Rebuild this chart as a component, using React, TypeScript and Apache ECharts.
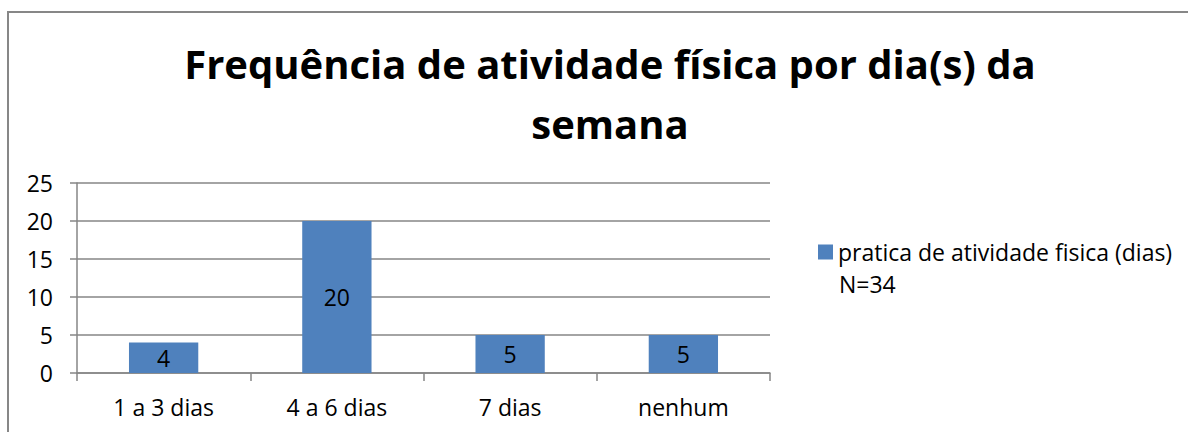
import React, { useEffect, useRef } from "react";
import * as echarts from "echarts";

const categories = ["1 a 3 dias", "4 a 6 dias", "7 dias", "nenhum"];
const values = [4, 20, 5, 5];
const seriesName = "pratica de atividade fisica (dias)";
const legendNote = "N=34";
const titleText = "Frequência de atividade física por dia(s) da\nsemana";

const FONT = "Open Sans";

export default function App() {
  const ref = useRef<HTMLDivElement>(null);
  useEffect(() => {
    if (!ref.current) return;
    const chart = echarts.init(ref.current, undefined, { renderer: "svg" });
    chart.setOption({
      animation: false,
      backgroundColor: "#ffffff",
      textStyle: { fontFamily: FONT },
      title: {
        text: titleText,
        left: 605,
        top: 28,
        padding: 5,
        textAlign: "center",
        textStyle: {
          fontFamily: FONT,
          fontWeight: "bold",
          fontSize: 40,
          lineHeight: 60,
          color: "#000",
        },
      },
      legend: {
        left: 813,
        top: 235,
        itemWidth: 15,
        itemHeight: 15,
        itemGap: 6,
        icon: "rect",
        textStyle: { fontFamily: FONT, fontSize: 23, lineHeight: 24, color: "#000", padding: [0, 0, 0, 0] },
        data: [seriesName],
      },
      grid: { left: 77, right: 418, top: 183, bottom: 59, containLabel: false },
      xAxis: {
        type: "category",
        data: categories,
        axisLine: { lineStyle: { color: "#868686", width: 1.5 } },
        axisTick: { show: true, length: 8, alignWithLabel: false, lineStyle: { color: "#868686", width: 1.5 } },
        axisLabel: { fontFamily: FONT, fontSize: 23, color: "#000", margin: 22 },
      },
      yAxis: {
        type: "value",
        min: 0,
        max: 25,
        interval: 5,
        axisLine: { show: true, lineStyle: { color: "#868686", width: 1.5 } },
        axisTick: { show: true, length: 7, inside: false, lineStyle: { color: "#868686", width: 1.5 } },
        axisLabel: { fontFamily: FONT, fontSize: 23, color: "#000", margin: 24 },
        splitLine: { show: true, lineStyle: { color: "#868686", width: 1.5 } },
      },
      series: [
        {
          name: seriesName,
          type: "bar",
          data: values,
          barWidth: "40%",
          itemStyle: { color: "#4F81BD" },
          label: {
            show: true,
            position: "inside",
            fontFamily: FONT,
            fontSize: 23,
            color: "#000",
          },
        },
      ],
      graphic: [
        {
          type: "rect",
          shape: { x: 8, y: 12, width: 1300, height: 600 },
          style: { fill: "none", stroke: "#878787", lineWidth: 2 },
          silent: true,
        },
        {
          type: "text",
          left: 839,
          top: 272,
          style: { text: legendNote, fontFamily: FONT, fontSize: 23, lineHeight: 24, fill: "#000" },
        },
      ],
    });
    return () => chart.dispose();
  }, []);
  return (
    <div
      ref={ref}
      style={{ position: "fixed", left: 0, top: 0, width: 1188, height: 432 }}
    />
  );
}
